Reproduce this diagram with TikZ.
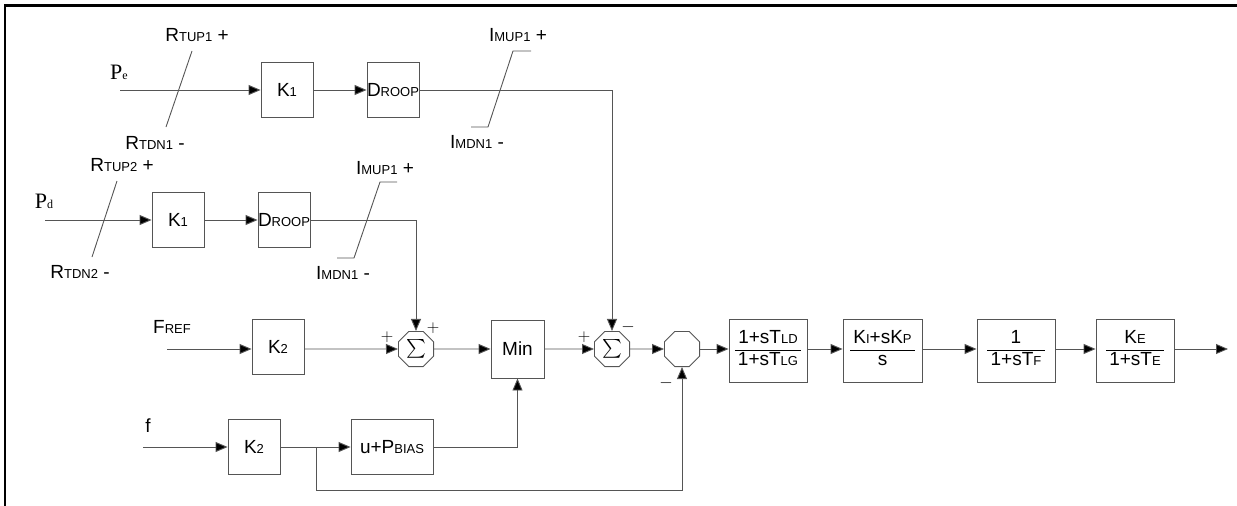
\documentclass[tikz,border=0pt]{standalone}
\usepackage{fontspec}
\setmainfont{Liberation Sans}
\newfontfamily\tms{Liberation Serif}
\usetikzlibrary{shapes.geometric,arrows.meta}
\definecolor{ln}{RGB}{85,85,85}
\newcommand\sm[1]{{\fontsize{13}{13}\selectfont #1}}
\newcommand\tfrac[2]{{\setlength\arrayrulewidth{1pt}\renewcommand\arraystretch{1.0}\begin{tabular}{@{\,}c@{\,}}#1\\\hline #2\end{tabular}}}
\newcommand\bigsum{\resizebox{!}{17.5pt}{$\sum$}}
\begin{document}
\begin{tikzpicture}[x=1pt,y=-1pt,
  every node/.style={font=\fontsize{19}{21}\selectfont},
  blk/.style={draw=ln,line width=0.9pt,inner sep=0pt,minimum width=52pt,minimum height=55pt},
  tfblk/.style={draw=ln,line width=0.9pt,inner sep=0pt,minimum width=78pt,minimum height=63pt},
  sumb/.style={draw=ln,line width=0.9pt,regular polygon,regular polygon sides=8,minimum size=38pt,inner sep=0pt},
  wire/.style={draw=ln,line width=0.9pt},
  arr/.style={wire,-{Triangle[length=12pt,width=10pt,fill=black]}},
  lbl/.style={inner sep=0pt},
  sgn/.style={inner sep=0pt,font=\fontsize{18}{18}\selectfont}]
\useasboundingbox (0,0) rectangle (1237,506);
% frame
\draw[line width=3pt] (4,5) -- (1237,5);
\draw[line width=2pt] (5,5) -- (5,506);

% row 1
\coordinate (pein) at (120,90);
\node[blk] (k1a) at (287,90) {K\sm{1}};
\node[blk] (dr1) at (393,90) {D\sm{ROOP}};
\node[lbl] (pe) at (119,72) {\tms\fontsize{22}{22}\selectfont P{\fontsize{12}{12}\selectfont e}};
\node[lbl] (rtup1) at (197,35) {R\sm{TUP1} +};
\node[lbl] (rtdn1) at (155,143) {R\sm{TDN1} -};
\coordinate (s1a) at (192,51);
\coordinate (s1b) at (166,127);
\draw[wire] (s1a) -- (s1b);
\node[lbl] (imup1) at (518,35) {I\sm{MUP1} +};
\node[lbl] (imdn1) at (477,142) {I\sm{MDN1} -};
\coordinate (i1a) at (531,51);
\coordinate (i1b) at (513,51);
\coordinate (i1c) at (488,127);
\coordinate (i1d) at (471,127);
\draw[wire] (i1a) -- (i1b) -- (i1c) -- (i1d);

% row 2
\coordinate (pdin) at (45,220);
\node[blk] (k1b) at (178,220) {K\sm{1}};
\node[blk] (dr2) at (284,220) {D\sm{ROOP}};
\node[lbl] (pd) at (44,201) {\tms\fontsize{22}{22}\selectfont P{\fontsize{12}{12}\selectfont d}};
\node[lbl] (rtup2) at (122,165) {R\sm{TUP2} +};
\node[lbl] (rtdn2) at (80,272) {R\sm{TDN2} -};
\coordinate (s2a) at (117,181);
\coordinate (s2b) at (92,257);
\draw[wire] (s2a) -- (s2b);
\node[lbl] (imup2) at (385,168) {I\sm{MUP1} +};
\node[lbl] (imdn2) at (343,273) {I\sm{MDN1} -};
\coordinate (i2a) at (397,182);
\coordinate (i2b) at (380,182);
\coordinate (i2c) at (354,258);
\coordinate (i2d) at (337,258);
\draw[wire] (i2a) -- (i2b) -- (i2c) -- (i2d);

% main row
\coordinate (frin) at (167,349);
\node[lbl] (fref) at (172,327) {F\sm{REF}};
\node[blk] (k2a) at (278,347) {K\sm{2}};
\node[sumb] (sum1) at (416,349) {\bigsum};
\node[blk,minimum width=53pt,minimum height=58pt] (min) at (517.5,349) {Min};
\node[sumb] (sum2) at (612,349) {\bigsum};
\node[sumb] (sum3) at (682,349) {};
\node[tfblk] (tf1) at (768,350.5) {\tfrac{1+sT\sm{LD}}{1+sT\sm{LG}}};
\node[tfblk,minimum width=79pt] (tf2) at (882.5,350.5) {\tfrac{K\sm{I}+sK\sm{P}}{s}};
\node[tfblk] (tf3) at (1016,350.5) {\tfrac{1}{1+sT\sm{F}}};
\node[tfblk] (tf4) at (1135,350.5) {\tfrac{K\sm{E}}{1+sT\sm{E}}};
\coordinate (out) at (1228,349);
\node[sgn] (p1) at (387,337) {$+$};
\node[sgn] (p2) at (433,328) {$+$};
\node[sgn] (p3) at (584,337) {$+$};
\node[sgn] (m1) at (628,327) {$-$};
\node[sgn] (m2) at (666,383) {$-$};

% row 4
\coordinate (fin) at (143,447);
\node[lbl] (flab) at (148,426) {f};
\node[blk] (k2b) at (254,447) {K\sm{2}};
\node[blk,minimum width=82pt] (bias) at (392,447) {u+P\sm{BIAS}};
\coordinate (br) at (316,447);
\coordinate (brd) at (316,490);

% connectors
\draw[arr] (pein) -- (k1a);
\draw[arr] (k1a) -- (dr1);
\draw[arr] (dr1.east) -| (sum2.north);
\draw[arr] (pdin) -- (k1b);
\draw[arr] (k1b) -- (dr2);
\draw[arr] (dr2.east) -| (sum1.north);
\draw[arr] (frin) -- (k2a.west |- frin);
\draw[arr] (k2a.east |- sum1) -- (sum1);
\draw[arr] (sum1) -- (min);
\draw[arr] (min) -- (sum2);
\draw[arr] (sum2) -- (sum3);
\draw[arr] (sum3) -- (tf1.west |- sum3);
\draw[arr] (tf1.east |- sum3) -- (tf2.west |- sum3);
\draw[arr] (tf2.east |- sum3) -- (tf3.west |- sum3);
\draw[arr] (tf3.east |- sum3) -- (tf4.west |- sum3);
\draw[arr] (tf4.east |- sum3) -- (out);
\draw[arr] (fin) -- (k2b);
\draw[arr] (k2b) -- (bias);
\draw[arr] (bias.east) -| (min.south);
\draw[arr] (br) -- (brd) -| (sum3.south);
\end{tikzpicture}
\end{document}
